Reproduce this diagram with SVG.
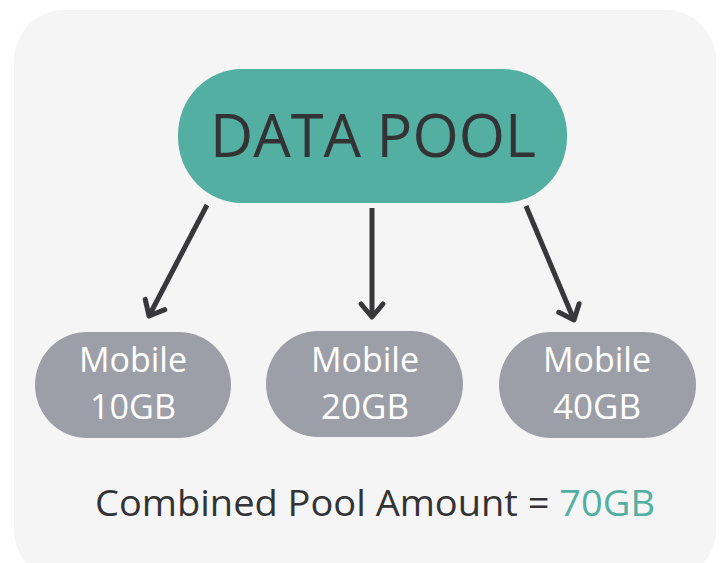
<svg xmlns="http://www.w3.org/2000/svg" width="723" height="563" viewBox="0 0 723 563">
<style>
.main{font-family:"Open Sans","Noto Sans",sans-serif;font-size:60px;fill:#333335;text-anchor:middle}
.lbl{font-family:"Open Sans","Noto Sans",sans-serif;font-size:35px;fill:#ffffff;text-anchor:middle}
.foot{font-family:"Open Sans","Noto Sans",sans-serif;font-size:37px;fill:#333335}
.conn{stroke:#38383a;stroke-width:5;fill:none;stroke-linecap:butt}
.small{fill:#9d9fa8}
</style>
<defs>
<marker id="ah" markerUnits="userSpaceOnUse" viewBox="-20 -15 25 30" refX="0" refY="0" markerWidth="25" markerHeight="30" orient="auto">
<path d="M-13,-11 L0,0 L-13,11" fill="none" stroke="#38383a" stroke-width="5" stroke-linecap="round" stroke-linejoin="round"/>
</marker>
</defs>
<rect x="14" y="10" width="702" height="570" rx="50" ry="50" fill="#f5f5f5"/>
<g id="connectors">
<line class="conn" x1="207" y1="205" x2="149" y2="316" marker-end="url(#ah)"/>
<line class="conn" x1="372" y1="208" x2="372" y2="317" marker-end="url(#ah)"/>
<line class="conn" x1="526" y1="206" x2="574" y2="320" marker-end="url(#ah)"/>
</g>
<g id="data-pool">
<rect x="178" y="69" width="389" height="134" rx="64" ry="66" fill="#53afa1"/>
<text class="main" x="373" y="157" textLength="326" lengthAdjust="spacingAndGlyphs">DATA POOL</text>
</g>
<g id="mobile-10">
<rect class="small" x="35" y="332" width="196" height="106" rx="52" ry="53"/>
<text class="lbl" x="133" y="372" textLength="108" lengthAdjust="spacingAndGlyphs">Mobile</text>
<text class="lbl" x="133" y="419" textLength="86" lengthAdjust="spacingAndGlyphs">10GB</text>
</g>
<g id="mobile-20">
<rect class="small" x="266" y="331" width="197" height="106" rx="52" ry="53"/>
<text class="lbl" x="365" y="372" textLength="108" lengthAdjust="spacingAndGlyphs">Mobile</text>
<text class="lbl" x="365" y="419" textLength="88" lengthAdjust="spacingAndGlyphs">20GB</text>
</g>
<g id="mobile-40">
<rect class="small" x="499" y="332" width="197" height="106" rx="52" ry="53"/>
<text class="lbl" x="597" y="372" textLength="108" lengthAdjust="spacingAndGlyphs">Mobile</text>
<text class="lbl" x="597" y="419" textLength="88" lengthAdjust="spacingAndGlyphs">40GB</text>
</g>
<g id="total">
<text class="foot" x="95" y="516" textLength="560" lengthAdjust="spacingAndGlyphs">Combined Pool Amount = <tspan fill="#53afa1">70GB</tspan></text>
</g>
</svg>
